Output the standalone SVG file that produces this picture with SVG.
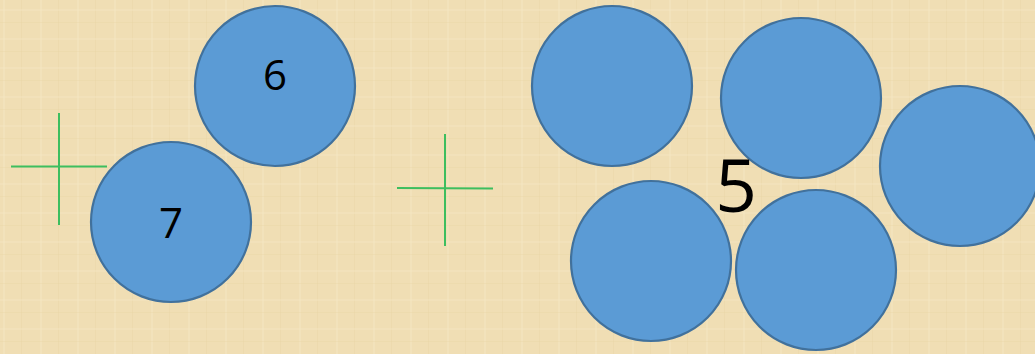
<svg xmlns="http://www.w3.org/2000/svg" width="1035" height="354" viewBox="0 0 1035 354">
<defs>
<style>
.c{fill:#5B9BD5;stroke:#41719C;stroke-width:2.2}
.x{stroke:#3DBE5F;stroke-width:2}
.t{font-family:"Open Sans","Liberation Sans",sans-serif;fill:#000;text-anchor:middle}
</style>
<pattern id="tex" width="37" height="29" patternUnits="userSpaceOnUse">
<rect width="37" height="29" fill="#F0DEB4"/>
<rect x="3" width="2" height="29" fill="#F4E5C2" opacity="0.5"/>
<rect x="21" width="1" height="29" fill="#E8D4A6" opacity="0.4"/>
<rect y="9" width="37" height="2" fill="#F5E7C4" opacity="0.4"/>
<rect y="22" width="37" height="1" fill="#E7D3A4" opacity="0.35"/>
</pattern>
</defs>
<rect width="1035" height="354" fill="url(#tex)"/>
<g id="cross1"><line class="x" x1="59" y1="113" x2="59" y2="225"/><line class="x" x1="11" y1="166.5" x2="107" y2="166.5"/></g>
<g id="cross2"><line class="x" x1="445" y1="134" x2="445" y2="246"/><line class="x" x1="397" y1="188" x2="493" y2="188.5"/></g>
<g id="node6"><circle class="c" cx="275" cy="86" r="80"/><text class="t" x="275" y="90" font-size="42">6</text></g>
<g id="node7"><circle class="c" cx="171" cy="222" r="80"/><text class="t" x="171" y="238" font-size="42">7</text></g>
<g id="nodeA"><circle class="c" cx="612" cy="86" r="80"/></g>
<g id="nodeB"><circle class="c" cx="801" cy="98" r="80"/></g>
<g id="nodeC"><circle class="c" cx="960" cy="166" r="80"/></g>
<g id="nodeD"><circle class="c" cx="651" cy="261" r="80"/></g>
<g id="nodeE"><circle class="c" cx="816" cy="270" r="80"/></g>
<g id="label5"><text class="t" x="736" y="212" font-size="73">5</text></g>
<g id="connectors"/>
</svg>
